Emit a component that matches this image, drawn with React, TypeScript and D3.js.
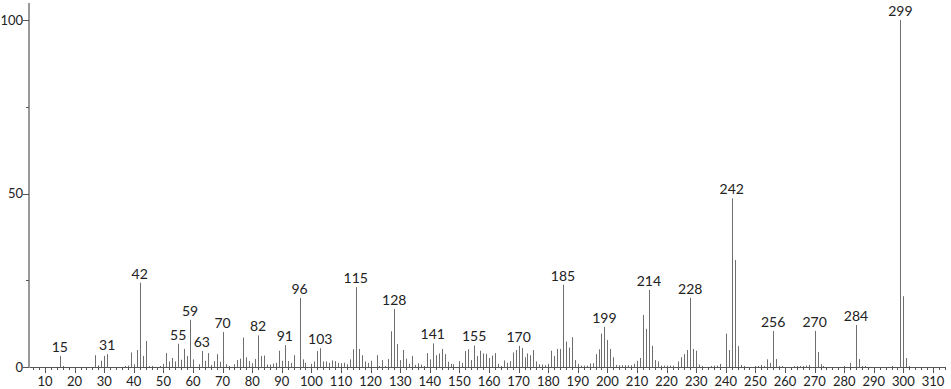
import React from "react";
import * as d3 from "d3";

const masses = [15,16,27,28,29,30,31,37,38,39,40,41,42,43,44,45,46,49,50,51,52,53,54,55,56,57,58,59,60,62,63,64,65,66,67,68,69,70,71,72,74,75,76,77,78,79,80,81,82,83,84,85,86,87,88,89,90,91,92,93,94,96,97,98,100,101,102,103,104,105,106,107,108,109,110,111,112,113,114,115,116,117,118,119,120,122,123,124,125,126,127,128,129,130,131,132,133,134,135,136,137,138,139,140,141,142,143,144,145,146,147,148,150,151,152,153,154,155,156,157,158,159,160,161,162,163,164,165,166,167,168,169,170,171,172,173,174,175,176,177,178,179,180,181,182,183,184,185,186,187,188,189,190,191,192,193,194,195,196,197,198,199,200,201,202,203,204,205,206,207,208,209,210,211,212,213,214,215,216,217,218,219,220,221,222,224,225,226,227,228,229,230,231,232,235,236,237,238,240,241,242,243,244,245,246,250,251,252,253,254,255,256,257,258,259,263,264,265,266,267,268,270,271,272,273,280,282,284,285,286,287,296,299,300,301,302];
const intensities = [3.2,0.3,3.4,0.5,1.8,3.2,3.7,0.3,0.4,4.2,0.8,4.9,24.3,3.2,7.5,0.3,0.3,0.3,0.9,4.0,1.6,2.6,1.6,6.7,2.1,5.2,3.2,13.6,2.2,0.8,4.6,1.8,4.0,0.6,1.7,3.7,1.5,10.1,0.8,0.3,0.8,2.0,2.4,8.5,2.8,1.7,1.1,2.3,9.1,3.2,3.3,0.7,0.7,1.0,1.2,4.7,1.8,6.3,1.7,1.2,3.4,19.9,2.2,1.2,0.9,1.6,4.6,5.4,1.6,1.6,1.2,1.9,1.7,1.2,1.1,1.2,0.8,2.2,5.1,23.0,5.2,3.4,1.6,1.2,1.8,3.4,0.3,2.0,0.3,2.3,10.3,16.7,6.6,2.0,4.9,2.4,0.9,3.2,0.6,1.1,0.7,0.3,4.0,2.2,6.8,3.4,3.9,5.2,3.7,1.5,0.9,0.8,1.7,1.2,4.6,5.1,2.0,6.2,3.2,4.7,3.9,3.8,2.6,3.3,4.0,0.9,0.3,1.9,1.2,1.7,4.2,4.9,6.1,5.5,2.8,3.9,3.4,4.9,1.6,0.8,0.7,0.5,0.9,4.7,3.2,5.2,5.2,23.7,7.3,5.6,8.6,2.0,0.9,0.4,0.4,0.4,1.0,1.1,3.7,5.1,9.6,11.6,7.8,5.2,2.8,0.6,0.5,0.5,0.5,0.5,0.5,0.9,1.8,2.6,15.0,11.0,22.2,6.1,2.0,1.6,0.4,0.4,0.4,0.4,0.4,1.6,2.8,3.7,4.9,19.9,5.2,4.7,0.7,0.3,0.3,0.4,0.4,0.9,9.6,4.9,48.6,30.8,6.0,0.6,0.3,0.3,0.3,0.6,0.3,2.2,1.2,10.4,2.3,0.3,0.3,0.3,0.3,0.3,0.3,0.4,0.6,10.4,4.3,0.8,0.3,0.3,1.2,12.1,2.3,0.3,0.3,0.3,100,20.4,2.6,0.3];
const labeledMasses = [15,31,42,55,59,63,70,82,91,96,103,115,128,141,155,170,185,199,214,228,242,256,270,284,299];
const xTickValues = d3.range(10, 311, 10);
const xMinorTicks = d3.range(6, 315, 2);
const yTickLabels = [0, 50, 100];
const yTicks = [0, 25, 50, 75, 100];

const W = 951;
const H = 389;
const FONT = "Lato, 'Open Sans', sans-serif";

export default function App() {
  const x = d3.scaleLinear().domain([10, 310]).range([45, 933]);
  const y = d3.scaleLinear().domain([0, 100]).range([367, 20]);
  const data = masses.map((m, i) => ({ m, v: intensities[i] }));
  const axisY = y(0);
  const axisX = 29;
  return (
    <svg width={W} height={H} style={{ position: "absolute", left: 0, top: 0, background: "#fff" }}>
      {/* bars */}
      {data.map((d) => (
        <line key={d.m} x1={Math.round(x(d.m)) + 0.5} x2={Math.round(x(d.m)) + 0.5} y1={axisY} y2={y(d.v)} stroke="#6e6e6e" strokeWidth={1} />
      ))}
      {/* peak labels */}
      {data.filter((d) => labeledMasses.includes(d.m)).map((d) => (
        <text key={"l" + d.m} x={x(d.m)} y={y(d.v) - 4} textAnchor="middle" fontSize={14} fontFamily={FONT} fill="#222">{d.m}</text>
      ))}
      {/* x axis */}
      <line x1={axisX} x2={945} y1={axisY + 0.5} y2={axisY + 0.5} stroke="#555" strokeWidth={1} />
      {xMinorTicks.filter((t) => x(t) > axisX + 2 && x(t) < 945).map((t) => (
        <line key={"mt" + t} x1={Math.round(x(t)) + 0.5} x2={Math.round(x(t)) + 0.5} y1={axisY} y2={axisY + 3} stroke="#555" />
      ))}
      {xTickValues.map((t) => (
        <g key={"xt" + t}>
          <line x1={Math.round(x(t)) + 0.5} x2={Math.round(x(t)) + 0.5} y1={axisY} y2={axisY + 6} stroke="#555" />
          <text x={x(t)} y={386} textAnchor="middle" fontSize={13} fontFamily={FONT} fill="#222">{t}</text>
        </g>
      ))}
      {/* y axis */}
      <line x1={axisX} x2={axisX} y1={3} y2={axisY + 1} stroke="#999" strokeWidth={2} />
      {yTicks.map((t) => (
        <line key={"yt" + t} x1={yTickLabels.includes(t) ? axisX - 6 : axisX - 3} x2={axisX} y1={Math.round(y(t)) + 0.5} y2={Math.round(y(t)) + 0.5} stroke="#555" />
      ))}
      {yTickLabels.map((t) => (
        <text key={"yl" + t} x={axisX - 6} y={y(t) + 4.5} textAnchor="end" fontSize={13} fontFamily={FONT} fill="#222">{t}</text>
      ))}
    </svg>
  );
}
